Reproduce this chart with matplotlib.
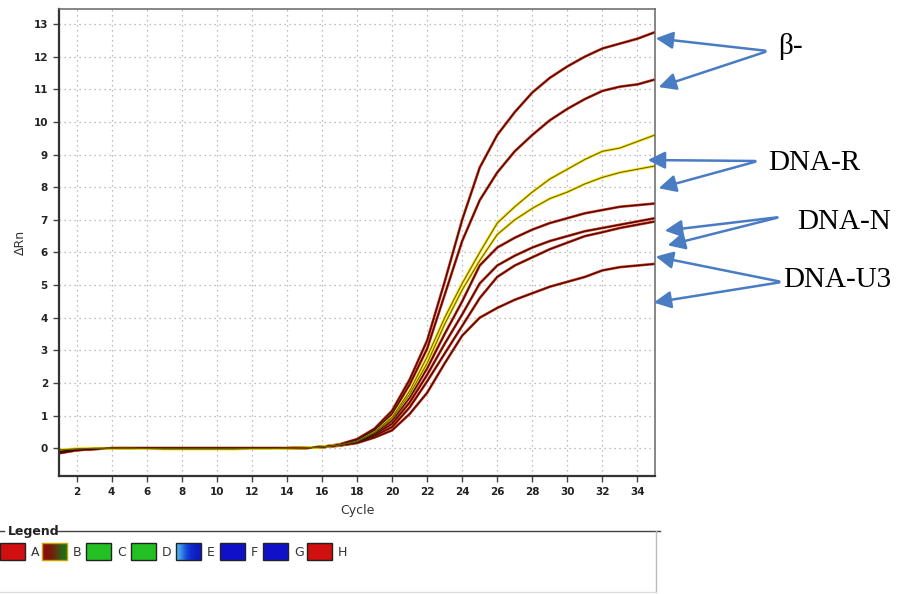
import matplotlib.pyplot as plt
import numpy as np
from matplotlib.patches import Rectangle, FancyArrowPatch

# amplification curves, delta Rn per cycle (cycles 1..35)
cycles = list(range(1, 36))
beta_1 = [-0.15, -0.06, -0.02, 0, 0, 0, 0, 0, 0, 0, 0, 0, 0, 0, 0.01, 0.04, 0.12, 0.28, 0.6, 1.15,
          2.1, 3.3, 5.1, 7.0, 8.6, 9.6, 10.3, 10.9, 11.35, 11.7, 12.0, 12.25, 12.4, 12.55, 12.75]
beta_2 = [-0.12, -0.05, -0.02, 0, 0, 0, 0, 0, 0, 0, 0, 0, 0, 0, 0.01, 0.04, 0.1, 0.25, 0.55, 1.05,
          1.95, 3.05, 4.7, 6.35, 7.6, 8.45, 9.1, 9.6, 10.05, 10.4, 10.7, 10.95, 11.08, 11.15, 11.3]
dnar_1 = [-0.05, -0.02, 0, 0, 0, -0.01, -0.02, -0.02, -0.02, -0.02, -0.02, -0.01, -0.01, 0, 0.01, 0.04, 0.1, 0.22, 0.5, 0.95,
          1.75, 2.8, 4.0, 5.05, 6.0, 6.9, 7.4, 7.85, 8.25, 8.55, 8.85, 9.1, 9.2, 9.4, 9.6]
dnar_2 = [-0.05, -0.02, 0, 0, 0, -0.01, -0.02, -0.02, -0.02, -0.02, -0.02, -0.01, -0.01, 0, 0.01, 0.04, 0.1, 0.2, 0.48, 0.9,
          1.65, 2.6, 3.8, 4.85, 5.75, 6.55, 7.0, 7.35, 7.65, 7.85, 8.1, 8.3, 8.45, 8.55, 8.65]
dnan_1 = [-0.1, -0.04, -0.01, 0, 0, 0, 0, 0, 0, 0, 0, 0, 0, 0, 0.01, 0.04, 0.1, 0.2, 0.45, 0.85,
          1.55, 2.45, 3.5, 4.5, 5.6, 6.15, 6.45, 6.7, 6.9, 7.05, 7.2, 7.3, 7.4, 7.45, 7.5]
dnan_2 = [-0.1, -0.04, -0.01, 0, 0, 0, 0, 0, 0, 0, 0, 0, 0, 0, 0.01, 0.04, 0.1, 0.19, 0.42, 0.75,
          1.4, 2.25, 3.2, 4.1, 5.05, 5.6, 5.9, 6.15, 6.35, 6.5, 6.65, 6.75, 6.85, 6.95, 7.05]
dnau_1 = [-0.12, -0.05, -0.02, 0, 0, 0, 0, 0, 0, 0, 0, 0, 0, 0, 0.01, 0.04, 0.09, 0.18, 0.38, 0.65,
          1.25, 2.05, 2.9, 3.75, 4.6, 5.25, 5.6, 5.85, 6.1, 6.3, 6.5, 6.62, 6.75, 6.85, 6.95]
dnau_2 = [-0.15, -0.06, -0.02, 0, 0, 0, 0, 0, 0, 0, 0, 0, 0, 0, 0.01, 0.03, 0.08, 0.16, 0.33, 0.55,
          1.05, 1.7, 2.6, 3.45, 4.0, 4.3, 4.55, 4.75, 4.95, 5.1, 5.25, 5.45, 5.55, 5.6, 5.65]

red_curves = [beta_1, beta_2, dnan_1, dnan_2, dnau_1, dnau_2]
yellow_curves = [dnar_1, dnar_2]

x_ticks = list(range(2, 35, 2))
y_ticks = list(range(0, 14))

group_names = ["β-", "DNA-R", "DNA-N", "DNA-U3"]
legend_keys = ["A", "B", "C", "D", "E", "F", "G", "H"]
legend_cols = ["#d01010", None, "#22c022", "#22c022", None, "#1010c8", "#1010c8", "#d01010"]

W, H = 910, 594
fig = plt.figure(figsize=(W / 100, H / 100), dpi=100, facecolor="white")
ax = fig.add_axes([59 / W, (H - 476) / H, (655 - 59) / W, (476 - 9) / H])

for ys in red_curves:
    ax.plot(cycles, ys, color="#c82a12", lw=1.9, solid_capstyle="butt")
for ys in yellow_curves:
    ax.plot(cycles, ys, color="#f2e000", lw=1.9, solid_capstyle="butt")
for ys in red_curves:
    ax.plot(cycles, ys, color="#3a0c04", lw=0.8)
for ys in yellow_curves:
    ax.plot(cycles, ys, color="#6e5c08", lw=0.7)

ax.set_xlim(1, 35)
ax.set_ylim(-0.85, 13.46)
ax.set_xticks(x_ticks)
ax.set_yticks(y_ticks)
ax.grid(True, color="#a8a8a8", linestyle=(0, (1, 3)), lw=0.9)
ax.set_axisbelow(True)
ax.tick_params(direction="out", length=4, width=1, color="#444444", labelsize=7.5, labelcolor="#222222", pad=4)
for lab in ax.get_xticklabels() + ax.get_yticklabels():
    lab.set_fontweight("bold")
for s in ax.spines.values():
    s.set_color("#666666")
    s.set_linewidth(1.1)
ax.spines["left"].set_color("#333333")
ax.spines["bottom"].set_color("#333333")
ax.spines["left"].set_linewidth(1.6)
ax.spines["bottom"].set_linewidth(1.6)
ax.set_xlabel("Cycle", fontsize=9, color="#333333", labelpad=5)
ax.set_ylabel("ΔRn", fontsize=9, color="#333333", labelpad=5)

# blue annotation arrows and labels (figure pixel coords, y from top)
ann = [
    (group_names[0], (778, 47), [(768, 51), (768, 51)], [(653, 38), (656, 88)]),
    (group_names[1], (768, 163), [(758, 161), (758, 161)], [(645, 160), (656, 189)]),
    (group_names[2], (797, 222), [(780, 217), (780, 217)], [(662, 231), (665, 246)]),
    (group_names[3], (783, 280), [(782, 282), (782, 282)], [(653, 256), (651, 303)]),
]
for name, tpos, tails, heads in ann:
    fig.text(tpos[0] / W, 1 - tpos[1] / H, name, fontsize=21, family="Liberation Serif",
             ha="left", va="center", color="black")
    for (tx, ty), (hx, hy) in zip(tails, heads):
        fig.add_artist(FancyArrowPatch(
            (tx / W, 1 - ty / H), (hx / W, 1 - hy / H), transform=fig.transFigure,
            arrowstyle="-|>,head_length=0.8,head_width=0.4", mutation_scale=13,
            color="#4a7cc4", lw=1.8))

# legend panel at the bottom
lax = fig.add_axes([0, 0, 1, 1], facecolor="none")
lax.set_xlim(0, W)
lax.set_ylim(H, 0)
lax.axis("off")
lax.plot([0, 4], [531, 531], color="#444444", lw=1)
lax.plot([57, 660], [531, 531], color="#444444", lw=1)
lax.plot([656, 656], [531, 592], color="#bbbbbb", lw=1)
lax.plot([0, 656], [592, 592], color="#dddddd", lw=1)
lax.text(8, 531, "Legend", fontsize=9, fontweight="bold", va="center", ha="left", color="#222222")
sw_x = [0, 42, 86, 131, 176, 220, 263, 307]
for i, key in enumerate(legend_keys):
    x0 = sw_x[i]
    if key == "B":
        grad = np.array([[[0.55, 0.05, 0.05], [0.45, 0.1, 0.05], [0.35, 0.25, 0.05], [0.1, 0.45, 0.1]]])
        lax.imshow(grad, extent=(x0, x0 + 25, 560, 543), aspect="auto", interpolation="bicubic", zorder=2)
        lax.add_patch(Rectangle((x0, 543), 25, 17, fill=False, ec="#c8a000", lw=1, zorder=3))
    elif key == "E":
        grad = np.array([[[0.3, 0.7, 0.95], [0.1, 0.3, 0.85], [0.05, 0.15, 0.8], [0.05, 0.1, 0.75]]])
        lax.imshow(grad, extent=(x0, x0 + 25, 560, 543), aspect="auto", interpolation="bicubic", zorder=2)
        lax.add_patch(Rectangle((x0, 543), 25, 17, fill=False, ec="#222222", lw=1, zorder=3))
    else:
        lax.add_patch(Rectangle((x0, 543), 25, 17, fc=legend_cols[i], ec="#222222", lw=1, zorder=3))
    lax.text(x0 + 31, 552, key, fontsize=9, va="center", ha="left", color="#333333")

fig.savefig("out.png", dpi=100)
